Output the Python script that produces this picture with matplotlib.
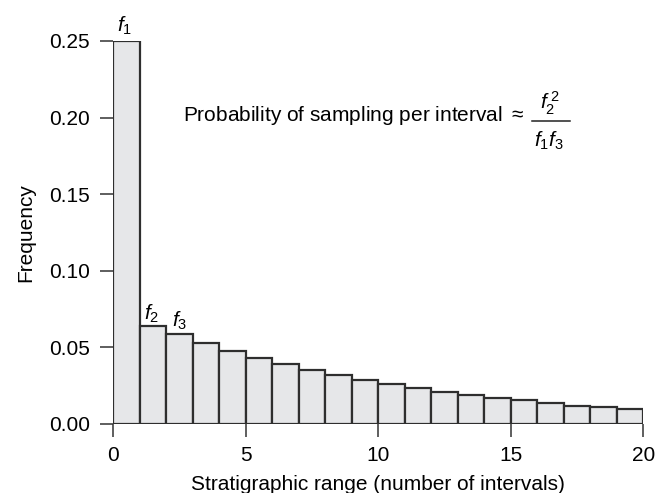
import numpy as np
import matplotlib.pyplot as plt

plt.rcParams['font.family'] = ['Liberation Sans', 'DejaVu Sans']
plt.rcParams['mathtext.fontset'] = 'custom'
plt.rcParams['mathtext.rm'] = 'Liberation Sans'
plt.rcParams['mathtext.it'] = 'Liberation Sans:italic'

# stratigraphic range (interval index) and frequency of each range
ranges = np.arange(1, 21)
freqs = [0.250, 0.064, 0.0585, 0.0526, 0.0478, 0.0429, 0.0389, 0.0350, 0.0318, 0.0289,
         0.0258, 0.0233, 0.0207, 0.0189, 0.0172, 0.0159, 0.0135, 0.0119, 0.0113, 0.0100]
labels = ['$f_1$', '$f_2$', '$f_3$']
label_pos = [(0.45, 0.260), (1.46, 0.072), (2.53, 0.067)]

fs = 15
fig = plt.figure(figsize=(6.57, 4.93), dpi=100)
ax = fig.add_axes([0.172, 0.14, 0.807, 0.777])

ax.bar(ranges - 1, freqs, width=1.0, align='edge', color='#e6e7e9',
       edgecolor='#2e2e2e', linewidth=1.6)

for lab, (x, y) in zip(labels, label_pos):
    ax.text(x, y, lab, ha='center', va='center', fontsize=fs, clip_on=False)

# annotation with a stacked fraction
ax.text(2.64, 0.2015, r'Probability of sampling per interval $\approx$',
        ha='left', va='center', fontsize=fs)
ax.text(16.5, 0.2096, r'$f_2^{\;2}$', ha='center', va='center', fontsize=fs)
ax.plot([15.8, 17.25], [0.198, 0.198], color='#222222', lw=1.1)
ax.text(16.45, 0.185, r'$f_1 f_3$', ha='center', va='center', fontsize=fs)

ax.set_xlim(0, 20)
ax.set_ylim(0, 0.25)
ax.set_xticks([0, 5, 10, 15, 20])
ax.set_yticks([0, 0.05, 0.10, 0.15, 0.20, 0.25])
ax.set_yticklabels(['0.00', '0.05', '0.10', '0.15', '0.20', '0.25'])
for s in ['top', 'right', 'left', 'bottom']:
    ax.spines[s].set_visible(False)
ax.tick_params(axis='both', direction='out', length=9.5, width=1.1, color='#333333',
               labelsize=fs)
ax.tick_params(axis='y', pad=7)
ax.tick_params(axis='x', pad=6)
ax.set_xlabel('Stratigraphic range (number of intervals)', fontsize=fs, labelpad=7.5)
ax.set_ylabel('Frequency', fontsize=fs, labelpad=10)

fig.savefig('out.png', dpi=100)
